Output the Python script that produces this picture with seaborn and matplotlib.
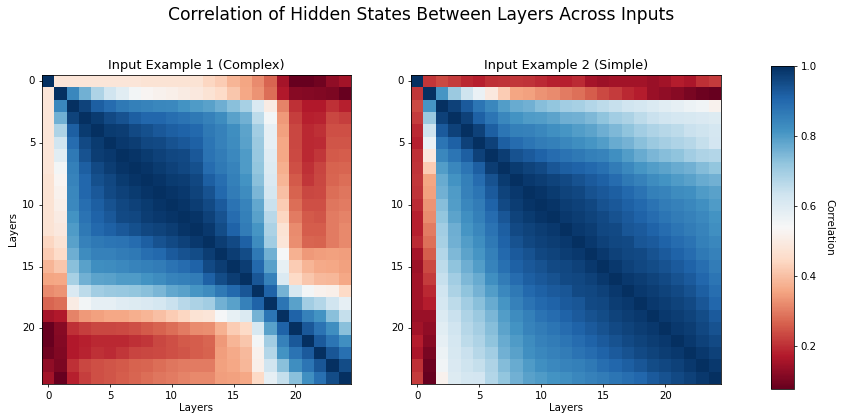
import numpy as np
import seaborn as sns
import matplotlib.pyplot as plt

# upper triangle of each layer-by-layer correlation matrix (row i holds columns i..24)
complex_rows = [
    [1.0, 0.48, 0.48, 0.48, 0.48, 0.48, 0.48, 0.48, 0.47, 0.47, 0.47, 0.47, 0.47, 0.44, 0.42, 0.38, 0.355, 0.32, 0.27, 0.155, 0.08, 0.077, 0.09, 0.13, 0.15],
    [1.0, 0.84, 0.76, 0.68, 0.63, 0.59, 0.55, 0.53, 0.52, 0.51, 0.50, 0.49, 0.47, 0.45, 0.41, 0.36, 0.33, 0.28, 0.17, 0.12, 0.115, 0.11, 0.105, 0.08],
    [1.0, 0.965, 0.92, 0.895, 0.87, 0.855, 0.845, 0.84, 0.835, 0.815, 0.80, 0.79, 0.765, 0.73, 0.69, 0.61, 0.50, 0.31, 0.20, 0.17, 0.17, 0.20, 0.18],
    [1.0, 0.98, 0.955, 0.94, 0.92, 0.905, 0.905, 0.89, 0.88, 0.87, 0.85, 0.83, 0.79, 0.76, 0.66, 0.55, 0.34, 0.22, 0.18, 0.185, 0.23, 0.22],
    [1.0, 0.98, 0.975, 0.955, 0.945, 0.93, 0.92, 0.91, 0.90, 0.87, 0.85, 0.825, 0.785, 0.70, 0.58, 0.35, 0.23, 0.19, 0.20, 0.24, 0.24],
    [1.0, 0.985, 0.975, 0.96, 0.955, 0.94, 0.93, 0.915, 0.875, 0.85, 0.83, 0.79, 0.71, 0.58, 0.36, 0.23, 0.19, 0.195, 0.25, 0.25],
    [1.0, 0.99, 0.98, 0.97, 0.96, 0.955, 0.93, 0.88, 0.86, 0.835, 0.80, 0.715, 0.595, 0.36, 0.235, 0.19, 0.21, 0.255, 0.26],
    [1.0, 0.99, 0.98, 0.97, 0.96, 0.945, 0.895, 0.87, 0.845, 0.80, 0.72, 0.60, 0.37, 0.24, 0.20, 0.225, 0.265, 0.27],
    [1.0, 0.99, 0.98, 0.975, 0.96, 0.92, 0.89, 0.855, 0.815, 0.73, 0.61, 0.38, 0.255, 0.21, 0.23, 0.27, 0.28],
    [1.0, 0.99, 0.985, 0.965, 0.94, 0.90, 0.86, 0.83, 0.75, 0.62, 0.40, 0.265, 0.23, 0.235, 0.28, 0.29],
    [1.0, 0.99, 0.975, 0.955, 0.925, 0.88, 0.845, 0.78, 0.64, 0.42, 0.28, 0.24, 0.24, 0.29, 0.30],
    [1.0, 0.99, 0.97, 0.94, 0.895, 0.855, 0.79, 0.665, 0.44, 0.30, 0.255, 0.25, 0.30, 0.31],
    [1.0, 0.985, 0.95, 0.91, 0.86, 0.81, 0.685, 0.47, 0.32, 0.26, 0.26, 0.30, 0.315],
    [1.0, 0.975, 0.955, 0.915, 0.83, 0.70, 0.48, 0.325, 0.27, 0.265, 0.30, 0.315],
    [1.0, 0.975, 0.95, 0.87, 0.76, 0.545, 0.375, 0.34, 0.345, 0.35, 0.345],
    [1.0, 0.975, 0.90, 0.79, 0.575, 0.42, 0.38, 0.365, 0.36, 0.35],
    [1.0, 0.935, 0.85, 0.605, 0.445, 0.41, 0.39, 0.385, 0.36],
    [1.0, 0.91, 0.755, 0.615, 0.55, 0.52, 0.51, 0.445],
    [1.0, 0.875, 0.79, 0.70, 0.675, 0.63, 0.58],
    [1.0, 0.91, 0.85, 0.815, 0.73, 0.65],
    [1.0, 0.93, 0.88, 0.825, 0.73],
    [1.0, 0.925, 0.875, 0.82],
    [1.0, 0.935, 0.885],
    [1.0, 0.95],
    [1.0],
]

simple_rows = [
    [1.0, 0.21, 0.235, 0.215, 0.19, 0.18, 0.20, 0.205, 0.21, 0.205, 0.195, 0.18, 0.18, 0.195, 0.155, 0.145, 0.15, 0.15, 0.15, 0.14, 0.15, 0.175, 0.16, 0.20, 0.215],
    [1.0, 0.81, 0.71, 0.635, 0.57, 0.49, 0.42, 0.355, 0.35, 0.33, 0.32, 0.30, 0.285, 0.26, 0.235, 0.215, 0.19, 0.175, 0.14, 0.13, 0.12, 0.10, 0.085, 0.077],
    [1.0, 0.97, 0.925, 0.875, 0.84, 0.795, 0.77, 0.76, 0.735, 0.72, 0.70, 0.69, 0.675, 0.66, 0.645, 0.63, 0.62, 0.605, 0.59, 0.58, 0.565, 0.555, 0.52],
    [1.0, 0.97, 0.915, 0.875, 0.84, 0.815, 0.80, 0.795, 0.785, 0.765, 0.76, 0.745, 0.725, 0.70, 0.685, 0.66, 0.64, 0.63, 0.62, 0.615, 0.61, 0.60],
    [1.0, 0.97, 0.92, 0.875, 0.855, 0.85, 0.84, 0.82, 0.81, 0.795, 0.785, 0.765, 0.745, 0.725, 0.70, 0.68, 0.67, 0.66, 0.64, 0.635, 0.62],
    [1.0, 0.97, 0.92, 0.895, 0.875, 0.86, 0.855, 0.84, 0.825, 0.81, 0.795, 0.77, 0.755, 0.73, 0.71, 0.695, 0.68, 0.67, 0.65, 0.625],
    [1.0, 0.975, 0.94, 0.925, 0.91, 0.895, 0.88, 0.87, 0.855, 0.845, 0.82, 0.795, 0.77, 0.75, 0.735, 0.725, 0.70, 0.68, 0.675],
    [1.0, 0.98, 0.965, 0.955, 0.935, 0.92, 0.91, 0.90, 0.885, 0.86, 0.835, 0.81, 0.795, 0.785, 0.77, 0.76, 0.74, 0.72],
    [1.0, 0.985, 0.975, 0.965, 0.955, 0.94, 0.925, 0.915, 0.895, 0.87, 0.85, 0.83, 0.815, 0.80, 0.79, 0.77, 0.76],
    [1.0, 0.99, 0.98, 0.965, 0.96, 0.94, 0.93, 0.92, 0.90, 0.88, 0.855, 0.845, 0.83, 0.82, 0.80, 0.79],
    [1.0, 0.99, 0.975, 0.97, 0.96, 0.94, 0.93, 0.915, 0.90, 0.88, 0.86, 0.85, 0.84, 0.82, 0.80],
    [1.0, 0.985, 0.975, 0.965, 0.955, 0.94, 0.925, 0.91, 0.895, 0.875, 0.86, 0.85, 0.835, 0.815],
    [1.0, 0.985, 0.975, 0.96, 0.955, 0.935, 0.925, 0.91, 0.895, 0.875, 0.86, 0.845, 0.82],
    [1.0, 0.985, 0.97, 0.96, 0.955, 0.935, 0.925, 0.91, 0.895, 0.88, 0.855, 0.84],
    [1.0, 0.985, 0.97, 0.96, 0.955, 0.94, 0.925, 0.91, 0.895, 0.87, 0.85],
    [1.0, 0.985, 0.97, 0.96, 0.95, 0.94, 0.925, 0.91, 0.89, 0.86],
    [1.0, 0.985, 0.975, 0.965, 0.955, 0.94, 0.925, 0.905, 0.875],
    [1.0, 0.985, 0.975, 0.965, 0.955, 0.94, 0.92, 0.89],
    [1.0, 0.985, 0.975, 0.965, 0.955, 0.935, 0.905],
    [1.0, 0.985, 0.975, 0.965, 0.95, 0.925],
    [1.0, 0.985, 0.975, 0.96, 0.94],
    [1.0, 0.985, 0.97, 0.955],
    [1.0, 0.985, 0.97],
    [1.0, 0.985],
    [1.0],
]

titles = ['Input Example 1 (Complex)', 'Input Example 2 (Simple)']
tick_pos = [0, 5, 10, 15, 20]


def full_matrix(rows):
    # mirror the upper triangle into a symmetric matrix
    n = len(rows)
    m = np.zeros((n, n))
    for i, r in enumerate(rows):
        m[i, i:] = r
        m[i:, i] = r
    return m


mats = [full_matrix(complex_rows), full_matrix(simple_rows)]
vmin = min(m.min() for m in mats)

fig = plt.figure(figsize=(842 / 70, 415 / 70), dpi=70)
ax1 = fig.add_axes([42 / 842, 31 / 415, 309 / 842, 309 / 415])
ax2 = fig.add_axes([411 / 842, 31 / 415, 310 / 842, 309 / 415])
cax = fig.add_axes([771 / 842, 26 / 415, 23 / 842, 323 / 415])

for ax, m, t in zip([ax1, ax2], mats, titles):
    sns.heatmap(m, ax=ax, cmap='RdBu', vmin=vmin, vmax=1.0, cbar=False)
    ax.set_xticks([p + 0.5 for p in tick_pos])
    ax.set_xticklabels([str(p) for p in tick_pos], rotation=0)
    ax.set_yticks([p + 0.5 for p in tick_pos])
    ax.set_yticklabels([str(p) for p in tick_pos], rotation=0)
    ax.tick_params(labelsize=10.5)
    for s in ax.spines.values():
        s.set_visible(True)
        s.set_linewidth(0.8)
    ax.set_title(t, fontsize=13.2)
    ax.set_xlabel('Layers', fontsize=10.5, labelpad=2)

ax1.set_ylabel('Layers', fontsize=10.5)

cb = fig.colorbar(ax1.collections[0], cax=cax)
cb.set_ticks([0.2, 0.4, 0.6, 0.8, 1.0])
cb.ax.tick_params(labelsize=10.5)
cb.set_label('Correlation', rotation=270, labelpad=18, fontsize=10.5)
cb.outline.set_linewidth(0.8)

fig.suptitle('Correlation of Hidden States Between Layers Across Inputs', fontsize=17.6, y=0.985)

plt.savefig('out.png', dpi=70)
